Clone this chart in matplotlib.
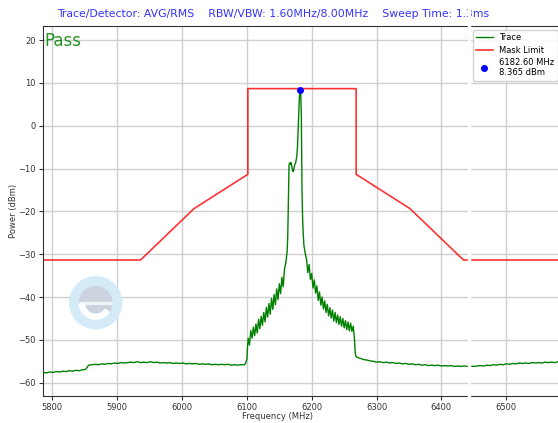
import numpy as np
import matplotlib
matplotlib.use("Agg")
import matplotlib.pyplot as plt
from matplotlib.patches import Circle, Wedge, Rectangle

# ---------------- data ----------------
left_floor_freq = np.arange(5786, 6097, 5)
left_floor_db = [-57.6, -57.7, -57.5, -57.6, -57.4, -57.5, -57.3, -57.4, -57.2, -57.3,
                 -57.1, -57.2, -57.0, -56.9, -55.9, -55.8, -55.7, -55.8, -55.6, -55.7,
                 -55.5, -55.6, -55.4, -55.5, -55.3, -55.4, -55.3, -55.2, -55.3, -55.1,
                 -55.3, -55.2, -55.3, -55.1, -55.3, -55.2, -55.4, -55.3, -55.4, -55.3,
                 -55.5, -55.4, -55.5, -55.4, -55.6, -55.5, -55.6, -55.5, -55.7, -55.6,
                 -55.7, -55.6, -55.8, -55.7, -55.8, -55.7, -55.8, -55.7, -55.9, -55.8,
                 -55.9, -55.8, -55.8]

center_freq = [6098, 6100, 6101, 6102, 6104, 6106, 6108, 6110, 6112, 6114, 6116, 6118,
               6120, 6122, 6124, 6126, 6128, 6130, 6132, 6134, 6136, 6138, 6140, 6142,
               6144, 6146, 6148, 6150, 6152, 6154, 6156, 6158, 6160, 6162, 6163, 6164,
               6165, 6166, 6167, 6168, 6169, 6170, 6171, 6172, 6173, 6174, 6175, 6176,
               6177, 6178, 6179, 6180, 6181, 6182, 6182.6, 6183, 6184, 6185, 6186, 6187,
               6188, 6190, 6192, 6194, 6196, 6198, 6200, 6202, 6204, 6206, 6208, 6210,
               6212, 6214, 6216, 6218, 6220, 6222, 6224, 6226, 6228, 6230, 6232, 6234,
               6236, 6238, 6240, 6242, 6244, 6246, 6248, 6250, 6252, 6254, 6256, 6258,
               6260, 6262, 6264, 6266, 6267, 6268, 6270]
center_db = [-55.5, -54.5, -51.5, -49.6, -51.2, -47.8, -49.6, -47.0, -49.0, -46.3, -48.4, -45.2,
             -47.4, -44.5, -46.6, -43.6, -45.8, -42.4, -44.7, -41.5, -44.0, -40.3, -42.9, -39.4,
             -41.8, -38.1, -40.6, -36.9, -39.2, -35.4, -37.6, -33.5, -32.0, -29.5, -26.0, -18.0,
             -9.2, -8.7, -9.0, -8.6, -9.3, -10.2, -10.7, -10.5, -9.6, -9.0, -8.8, -8.0,
             -7.2, -5.0, -1.0, 3.5, 6.8, 8.2, 8.365, 8.0, 2.0, -15.0, -22.0, -25.5,
             -28.0, -29.8, -31.2, -34.3, -32.4, -35.9, -34.5, -37.9, -36.0, -39.1, -37.4, -40.8,
             -38.8, -41.9, -40.0, -42.8, -40.9, -43.6, -41.7, -44.4, -42.5, -44.9, -43.0, -45.6,
             -43.6, -46.0, -44.2, -46.4, -44.6, -46.8, -45.0, -47.2, -45.5, -47.6, -45.8, -47.9,
             -46.1, -48.0, -46.8, -50.0, -52.8, -53.8, -54.1]

right_floor_freq = np.arange(6275, 6586, 5)
right_floor_db = [-54.3, -54.6, -54.7, -54.9, -55.0, -55.2, -55.1, -55.3, -55.2, -55.4,
                  -55.3, -55.5, -55.4, -55.6, -55.5, -55.7, -55.6, -55.8, -55.7, -55.9,
                  -55.8, -56.0, -55.9, -56.0, -55.9, -56.1, -56.0, -56.1, -56.0, -56.2,
                  -56.1, -56.2, -56.1, -56.2, -56.1, -56.2, -56.1, -56.0, -56.1, -55.9,
                  -56.0, -55.8, -55.9, -55.7, -55.8, -55.6, -55.7, -55.5, -55.6, -55.4,
                  -55.5, -55.4, -55.5, -55.3, -55.4, -55.3, -55.4, -55.2, -55.3, -55.2,
                  -55.3, -55.1, -55.2]

mask_freq = [5786, 5936, 6018.5, 6101.5, 6101.5, 6268.5, 6268.5, 6351.5, 6434, 6586]
mask_db = [-31.35, -31.35, -19.35, -11.35, 8.65, 8.65, -11.35, -19.35, -31.35, -31.35]

marker_freq = 6182.60
marker_db = 8.365

xticks = [5800, 5900, 6000, 6100, 6200, 6300, 6400, 6500]
yticks = [-60, -50, -40, -30, -20, -10, 0, 10, 20]

title_text = "Trace/Detector: AVG/RMS    RBW/VBW: 1.60MHz/8.00MHz    Sweep Time: 1.3ms"

# ---------------- plot ----------------
W, H = 558, 423
fig = plt.figure(figsize=(W / 100, H / 100), dpi=100)
ax_w = 562 - 43.3
ax_h = 395.7 - 25.7
ax = fig.add_axes([43.3 / W, 1 - 395.7 / H, ax_w / W, ax_h / H])

trace_f = list(left_floor_freq) + list(center_freq) + list(right_floor_freq)
trace_d = list(left_floor_db) + list(center_db) + list(right_floor_db)

ax.plot(trace_f, trace_d, color="green", lw=1.0, label="Trace", zorder=3)
ax.plot(mask_freq, mask_db, color="red", lw=1.2, alpha=0.8, label="Mask Limit", zorder=2)
ax.plot([marker_freq], [marker_db], "o", color="blue", ms=4, zorder=4,
        label=f"{marker_freq:.2f} MHz\n{marker_db:.3f} dBm")

ax.set_xlim(5786, 6586)
ax.set_ylim(-63.03, 23.34)
ax.set_xticks(xticks)
ax.set_yticks(yticks)
ax.tick_params(labelsize=6, length=3, pad=2.5, color="#333333", labelcolor="#333333")
ax.grid(True, color="#d0d0d0", lw=1.0)
ax.set_axisbelow(True)
for s in ["left", "bottom", "top", "right"]:
    ax.spines[s].set_color("#333333")
ax.set_xlabel("Frequency (MHz)", fontsize=6, color="#333333")
ax.set_ylabel("Power (dBm)", fontsize=6, color="#333333")
ax.xaxis.set_label_coords((278 - 43.3) / ax_w, -(412 - 395.7) / ax_h)
ax.yaxis.set_label_coords(-(43.3 - 18.5) / ax_w, 0.5)

ax.text(0.002, 0.983, "Pass", transform=ax.transAxes, color="green", fontsize=12,
        ha="left", va="top", alpha=0.85)

leg = ax.legend(loc="upper right", fontsize=6, framealpha=0.9, handlelength=2.0,
                borderpad=0.4, labelspacing=0.4)

fig.text(273.5 / W, 1 - 14 / H, title_text, color="blue", fontsize=7.85,
         ha="center", va="center", alpha=0.8)

# watermark logo
t = fig.dpi_scale_trans
cx, cy = 95.7 / 100, (H - 302.7) / 100
fig.patches.append(Circle((cx, cy), 0.26, transform=t, color="#d4ebf7", zorder=5))
fig.patches.append(Circle((cx, cy), 0.16, transform=t, color="#cbd3de", zorder=6))
fig.patches.append(Rectangle((cx - 0.16, cy - 0.012), 0.32, 0.024, transform=t,
                             color="#eef3f8", zorder=7))
fig.patches.append(Wedge((cx, cy), 0.165, 185, 325, width=0.05, transform=t,
                         color="white", zorder=7))

# white vertical gap artifact
fig.patches.append(Rectangle((467.5 / W, (H - 400) / H), 2.5 / W, 397 / H,
                             transform=fig.transFigure, color="white", zorder=20))

fig.savefig("out.png", dpi=100)
